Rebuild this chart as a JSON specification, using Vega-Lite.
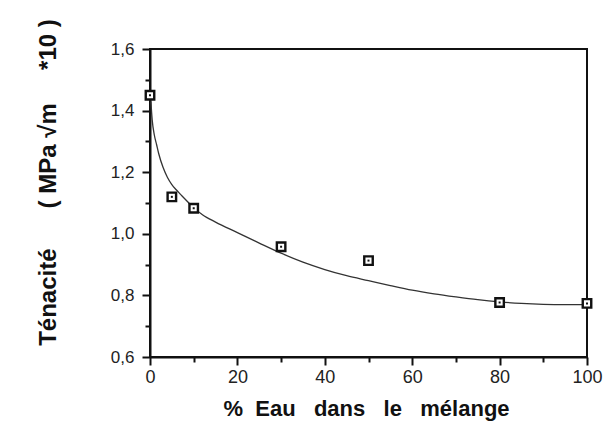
{
  "$schema": "https://vega.github.io/schema/vega-lite/v6.json",
  "autosize": "none",
  "width": 437,
  "height": 308,
  "padding": {"left": 150, "top": 49, "right": 19, "bottom": 75},
  "background": "white",
  "config": {
    "font": "Liberation Sans",
    "view": {"stroke": "#111", "strokeWidth": 2},
    "axis": {
      "domainColor": "#111", "domainWidth": 2, "tickColor": "#111", "tickWidth": 2,
      "grid": false, "labelColor": "#222", "titleColor": "#111", "labelFont": "Liberation Sans"
    }
  },
  "datasets": {
    "points": [
      {"eau": 0, "tenacite": 1.45},
      {"eau": 5, "tenacite": 1.12},
      {"eau": 10, "tenacite": 1.083},
      {"eau": 30, "tenacite": 0.958},
      {"eau": 50, "tenacite": 0.913},
      {"eau": 80, "tenacite": 0.777},
      {"eau": 100, "tenacite": 0.774}
    ],
    "curve": [
      {"eau": 0.2, "tenacite": 1.43},
      {"eau": 0.5, "tenacite": 1.37},
      {"eau": 1, "tenacite": 1.32},
      {"eau": 1.5, "tenacite": 1.29},
      {"eau": 2, "tenacite": 1.26},
      {"eau": 3, "tenacite": 1.215},
      {"eau": 4, "tenacite": 1.183},
      {"eau": 5, "tenacite": 1.16},
      {"eau": 6, "tenacite": 1.143},
      {"eau": 7, "tenacite": 1.128},
      {"eau": 8, "tenacite": 1.113},
      {"eau": 10, "tenacite": 1.085},
      {"eau": 12, "tenacite": 1.062},
      {"eau": 15, "tenacite": 1.038},
      {"eau": 20, "tenacite": 1.004},
      {"eau": 25, "tenacite": 0.97},
      {"eau": 30, "tenacite": 0.937},
      {"eau": 35, "tenacite": 0.908},
      {"eau": 40, "tenacite": 0.884},
      {"eau": 45, "tenacite": 0.864},
      {"eau": 50, "tenacite": 0.848},
      {"eau": 55, "tenacite": 0.832},
      {"eau": 60, "tenacite": 0.817},
      {"eau": 65, "tenacite": 0.805},
      {"eau": 70, "tenacite": 0.795},
      {"eau": 75, "tenacite": 0.786},
      {"eau": 80, "tenacite": 0.779},
      {"eau": 85, "tenacite": 0.774},
      {"eau": 90, "tenacite": 0.771},
      {"eau": 95, "tenacite": 0.77},
      {"eau": 100, "tenacite": 0.77}
    ]
  },
  "encoding": {
    "x": {
      "field": "eau", "type": "quantitative",
      "scale": {"domain": [0, 100], "nice": false, "zero": false},
      "axis": {
        "values": [0, 10, 20, 30, 40, 50, 60, 70, 80, 90, 100],
        "labelExpr": "datum.value % 20 == 0 ? datum.label : ''",
        "tickSize": {"condition": {"test": "datum.value % 20 == 0", "value": 8}, "value": 5},
        "labelFontSize": 18, "labelPadding": 3, "labelFlush": false,
        "title": "%\u00a0\u00a0Eau\u00a0\u00a0\u00a0dans\u00a0\u00a0\u00a0le\u00a0\u00a0\u00a0mélange",
        "titleFontSize": 22, "titleFontWeight": "bold",
        "titleX": 216, "titleY": 58, "titleBaseline": "alphabetic", "titleAlign": "center"
      }
    },
    "y": {
      "field": "tenacite", "type": "quantitative",
      "scale": {"domain": [0.6, 1.6], "nice": false, "zero": false},
      "axis": {
        "values": [0.6, 0.7, 0.8, 0.9, 1.0, 1.1, 1.2, 1.3, 1.4, 1.5, 1.6],
        "labelExpr": "round(datum.value * 10) % 2 == 0 ? replace(format(datum.value, '.1f'), '.', ',') : ''",
        "tickSize": {"condition": {"test": "round(datum.value * 10) % 2 == 0", "value": 8}, "value": 5},
        "labelFontSize": 17, "labelPadding": 8, "labelFlush": false,
        "title": "Ténacité\u00a0\u00a0\u00a0\u00a0\u00a0\u00a0(\u00a0MPa\u00a0√m\u00a0\u00a0\u00a0\u00a0\u00a0*10\u00a0)",
        "titleFontSize": 24, "titleFontWeight": "bold",
        "titleAngle": -90, "titleX": -95, "titleY": 133,
        "titleBaseline": "alphabetic", "titleAlign": "center"
      }
    }
  },
  "layer": [
    {
      "data": {"name": "curve"},
      "mark": {"type": "line", "color": "#333", "strokeWidth": 1.3, "interpolate": "monotone"}
    },
    {
      "data": {"name": "points"},
      "mark": {"type": "point", "shape": "square", "size": 72, "filled": true, "fill": "white", "stroke": "#111", "strokeWidth": 2.4, "opacity": 1}
    },
    {
      "data": {"name": "points"},
      "mark": {"type": "point", "shape": "square", "size": 4, "filled": true, "fill": "#111", "opacity": 1}
    }
  ]
}
